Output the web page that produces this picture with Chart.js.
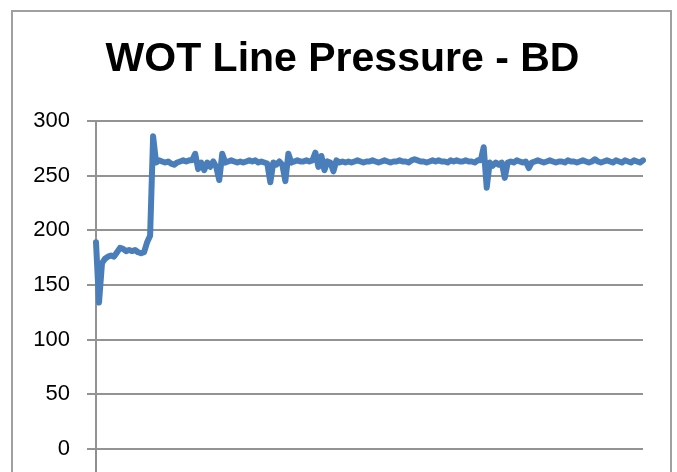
<!DOCTYPE html>
<html>
<head>
<meta charset="utf-8">
<script src="https://cdn.jsdelivr.net/npm/chart.js@4/dist/chart.umd.min.js"></script>
<style>
  html, body { margin: 0; padding: 0; background: #fff; overflow: hidden; }
  #wrap { position: relative; width: 677px; height: 472px; overflow: hidden; }
</style>
</head>
<body>
<div id="wrap"><canvas id="c" width="677" height="520"></canvas></div>
<script>
const chartTitle = "WOT Line Pressure - BD";
const yTicks = [0, 50, 100, 150, 200, 250, 300];
const pressure = [
  189,134,170,174,176,177,176,180,184,183,181,182,181,182,180,179,180,189,195,286,
  262,264,263,262,263,261,260,262,263,264,263,264,264,270,256,262,255,262,258,263,
  258,246,270,262,263,264,263,262,263,262,263,264,263,264,262,263,262,261,244,262,
  260,263,260,245,270,262,263,264,263,263,264,263,264,271,258,268,255,263,262,254,
  264,262,263,262,263,262,263,264,263,262,263,263,264,263,262,263,264,263,262,263,
  263,264,263,263,262,264,265,264,263,263,262,263,264,263,264,263,263,262,264,263,
  264,263,263,264,263,263,262,264,264,276,239,262,259,262,260,262,248,262,263,262,
  264,263,262,263,257,262,263,264,263,262,263,264,263,262,263,263,262,264,263,263,
  262,263,264,263,262,263,265,263,262,263,264,263,262,264,263,262,264,263,262,264,
  263,262,264
];
const samples = pressure.map((_, i) => i);

const frame = {
  id: 'frame',
  beforeDraw(chart) {
    const ctx = chart.ctx;
    ctx.save();
    ctx.strokeStyle = '#a0a0a0';
    ctx.lineWidth = 2;
    ctx.strokeRect(12, 11, 659, 700);
    ctx.restore();
  },
  afterDraw(chart) {
    const ctx = chart.ctx, a = chart.chartArea;
    ctx.save();
    ctx.strokeStyle = '#8e8e8e';
    ctx.lineWidth = 2;
    ctx.beginPath();
    ctx.moveTo(a.left, a.bottom);
    ctx.lineTo(a.left, chart.height);
    ctx.stroke();
    ctx.restore();
  }
};

new Chart(document.getElementById('c'), {
  type: 'line',
  data: {
    labels: samples,
    datasets: [{
      data: pressure,
      yAxisID: 'y',
      borderColor: '#4A7EBB',
      borderWidth: 6,
      pointRadius: 0,
      tension: 0,
      borderJoinStyle: 'round',
      borderCapStyle: 'round',
      fill: false
    }]
  },
  options: {
    responsive: false,
    animation: false,
    events: [],
    layout: { padding: { left: 8, right: 0, top: 0, bottom: 71 } },
    plugins: {
      legend: { display: false },
      tooltip: { enabled: false },
      title: {
        display: true,
        text: chartTitle,
        color: '#000',
        font: { family: 'Liberation Sans', size: 41, weight: 'bold', lineHeight: '48px' },
        padding: { top: 36, bottom: 37 }
      }
    },
    scales: {
      x: { display: false },
      y: {
        position: 'left',
        min: 0, max: 300,
        afterFit(scale) { scale.width = 88; },
        afterBuildTicks(scale) { scale.ticks = yTicks.map(v => ({ value: v })); },
        ticks: {
          color: '#000',
          font: { family: 'Liberation Sans', size: 22 },
          padding: 17
        },
        grid: { color: '#939393', lineWidth: 2, tickLength: 9 },
        border: { display: true, color: '#939393', width: 2 }
      },
      yRight: {
        position: 'right',
        min: 0, max: 300,
        afterFit(scale) { scale.width = 34; },
        ticks: { display: false },
        grid: { display: false, drawTicks: false },
        border: { display: false }
      }
    }
  },
  plugins: [frame]
});
</script>
</body>
</html>
